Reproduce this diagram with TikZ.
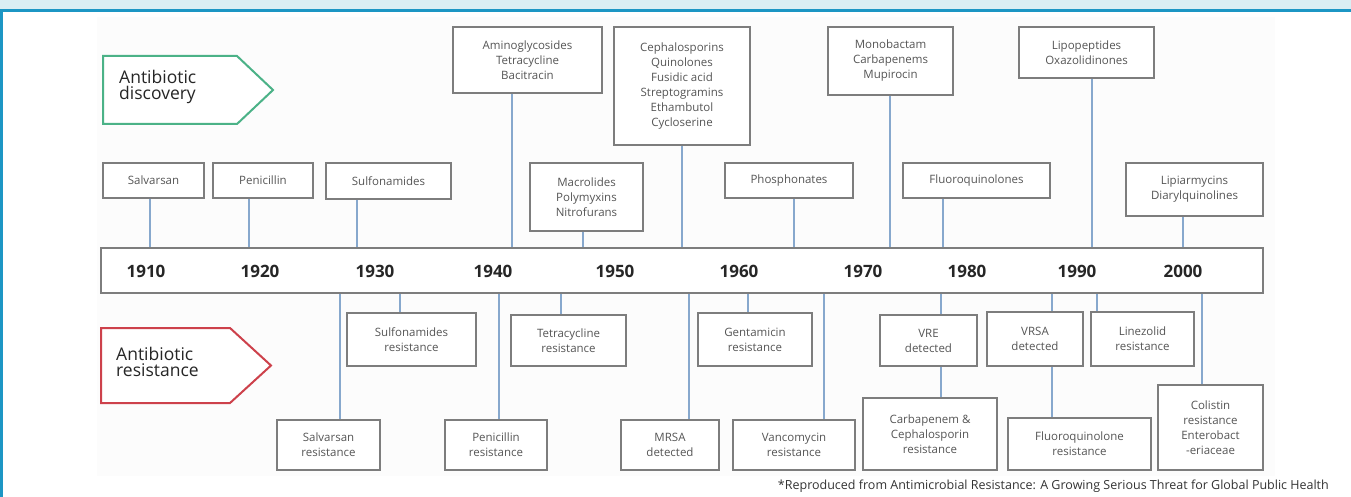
\documentclass[tikz,border=0pt]{standalone}
\usepackage{fontspec}
\setmainfont{Open Sans}
\usepackage{tikz}
\definecolor{framebl}{RGB}{28,150,196}
\definecolor{bandbl}{RGB}{218,238,243}
\definecolor{panelgray}{RGB}{252,252,252}
\definecolor{boxgray}{RGB}{125,125,125}
\definecolor{txtgray}{RGB}{85,85,85}
\definecolor{linkblue}{RGB}{135,168,205}
\definecolor{discgreen}{RGB}{75,178,135}
\definecolor{resred}{RGB}{205,65,75}

\begin{document}
\begin{tikzpicture}[x=1pt,y=-1pt]
    \tikzstyle{box} = [draw=boxgray,line width=1.6pt,fill=white,text=txtgray,align=center,inner sep=0pt,font=\fontsize{11.5}{15}\selectfont]
    \tikzstyle{link} = [linkblue,line width=1.4pt]
    \tikzstyle{year} = [font=\fontsize{17}{17}\selectfont\bfseries,text=black!85]
    \tikzstyle{flagtext} = [anchor=west,align=left,inner sep=0pt,text=black!85,font=\fontsize{17.5}{16}\selectfont]

    \useasboundingbox (0,0) rectangle (1351,497);

    % frame
    \fill[bandbl] (0,0) rectangle (1351,9);
    \fill[panelgray] (97,17) rectangle (1275,476);
    \draw[framebl,line width=3pt] (0,10.5) -- (1351,10.5);
    \draw[framebl,line width=3pt] (1.5,10.5) -- (1.5,497);

    % flags
    \draw[discgreen,line width=2pt,fill=white] (103,56) -- (237,56) -- (273,90) -- (237,124) -- (103,124) -- cycle;
    \node[flagtext] (disc) at (119,87) {Antibiotic\\discovery};
    \draw[resred,line width=2pt,fill=white] (101,328) -- (230,328) -- (271,365.5) -- (230,403) -- (101,403) -- cycle;
    \node[flagtext] (resist) at (116,362) {Antibiotic\\resistance};

    % timeline
    \node[box,minimum width=1162,minimum height=45] (bar) at (682,270.5) {};
    \node[year] (y1910) at (146,271) {1910};
    \node[year] (y1920) at (260,271) {1920};
    \node[year] (y1930) at (375,271) {1930};
    \node[year] (y1940) at (493,271) {1940};
    \node[year] (y1950) at (615,271) {1950};
    \node[year] (y1960) at (739,271) {1960};
    \node[year] (y1970) at (863,271) {1970};
    \node[year] (y1980) at (967,271) {1980};
    \node[year] (y1990) at (1077,271) {1990};
    \node[year] (y2000) at (1183,271) {2000};

    % discovery
    \node[box,minimum width=101,minimum height=35] (salvarsan) at (153.5,180.5) {Salvarsan};
    \node[box,minimum width=100,minimum height=35] (penicillin) at (263,180.5) {Penicillin};
    \node[box,minimum width=125,minimum height=36] (sulfa) at (388.5,181) {Sulfonamides};
    \node[box,minimum width=149,minimum height=66] (amino) at (527.5,60) {Aminoglycosides\\Tetracycline\\Bacitracin};
    \node[box,minimum width=113,minimum height=68] (macro) at (586.5,197) {Macrolides\\Polymyxins\\Nitrofurans};
    \node[box,minimum width=136,minimum height=118] (cepha) at (682,86) {Cephalosporins\\Quinolones\\Fusidic acid\\Streptogramins\\Ethambutol\\Cycloserine};
    \node[box,minimum width=128,minimum height=35] (phospho) at (789,180.5) {Phosphonates};
    \node[box,minimum width=125,minimum height=68] (monob) at (890.5,61) {Monobactam\\Carbapenems\\Mupirocin};
    \node[box,minimum width=135,minimum height=51] (lipopep) at (1086.5,52.5) {Lipopeptides\\Oxazolidinones};
    \node[box,minimum width=147,minimum height=35] (fluoro) at (976.5,180.5) {Fluoroquinolones};
    \node[box,minimum width=137,minimum height=53] (lipiar) at (1194.5,189.5) {Lipiarmycins\\Diarylquinolines};

    \draw[link] (150,0 |- salvarsan.south) -- (150,0 |- bar.north);
    \draw[link] (249,0 |- penicillin.south) -- (249,0 |- bar.north);
    \draw[link] (357,0 |- sulfa.south) -- (357,0 |- bar.north);
    \draw[link] (512,0 |- amino.south) -- (512,0 |- bar.north);
    \draw[link] (583,0 |- macro.south) -- (583,0 |- bar.north);
    \draw[link] (682,0 |- cepha.south) -- (682,0 |- bar.north);
    \draw[link] (794,0 |- phospho.south) -- (794,0 |- bar.north);
    \draw[link] (890,0 |- monob.south) -- (890,0 |- bar.north);
    \draw[link] (943,0 |- fluoro.south) -- (943,0 |- bar.north);
    \draw[link] (1092,0 |- lipopep.south) -- (1092,0 |- bar.north);
    \draw[link] (1183,0 |- lipiar.south) -- (1183,0 |- bar.north);

    % resistance
    \node[box,minimum width=103,minimum height=50] (salvres) at (328.5,445) {Salvarsan\\resistance};
    \node[box,minimum width=129,minimum height=53] (sulfares) at (411.5,339.5) {Sulfonamides\\resistance};
    \node[box,minimum width=102,minimum height=50] (penres) at (496,445) {Penicillin\\resistance};
    \node[box,minimum width=115,minimum height=51] (tetrares) at (568.5,340.5) {Tetracycline\\resistance};
    \node[box,minimum width=98,minimum height=50] (mrsa) at (670,445) {MRSA\\detected};
    \node[box,minimum width=114,minimum height=53] (gentares) at (755,339.5) {Gentamicin\\resistance};
    \node[box,minimum width=122,minimum height=50] (vancores) at (794,445) {Vancomycin\\resistance};
    \node[box,minimum width=97,minimum height=51] (vre) at (928.5,340.5) {VRE\\detected};
    \node[box,minimum width=134,minimum height=72] (carbares) at (930,434) {Carbapenem \&\\Cephalosporin\\resistance};
    \node[box,minimum width=96,minimum height=54] (vrsa) at (1035,339) {VRSA\\detected};
    \node[box,minimum width=103,minimum height=54] (linezres) at (1142.5,339) {Linezolid\\resistance};
    \node[box,minimum width=143,minimum height=52] (fluorores) at (1079.5,444) {Fluoroquinolone\\resistance};
    \node[box,minimum width=105,minimum height=85] (colires) at (1210.5,427.5) {Colistin\\resistance\\Enterobact\\-eriaceae};

    \draw[link] (340,0 |- bar.south) -- (340,0 |- salvres.north);
    \draw[link] (400,0 |- bar.south) -- (400,0 |- sulfares.north);
    \draw[link] (499,0 |- bar.south) -- (499,0 |- penres.north);
    \draw[link] (561,0 |- bar.south) -- (561,0 |- tetrares.north);
    \draw[link] (689,0 |- bar.south) -- (689,0 |- mrsa.north);
    \draw[link] (748,0 |- bar.south) -- (748,0 |- gentares.north);
    \draw[link] (824,0 |- bar.south) -- (824,0 |- vancores.north);
    \draw[link] (941,0 |- bar.south) -- (941,0 |- vre.north);
    \draw[link] (941,0 |- vre.south) -- (941,0 |- carbares.north);
    \draw[link] (1052,0 |- bar.south) -- (1052,0 |- vrsa.north);
    \draw[link] (1052,0 |- vrsa.south) -- (1052,0 |- fluorores.north);
    \draw[link] (1097,0 |- bar.south) -- (1097,0 |- linezres.north);
    \draw[link] (1202,0 |- bar.south) -- (1202,0 |- colires.north);

    % source
    \node[anchor=east,inner sep=0pt,text=black!80,font=\fontsize{12.5}{14}\selectfont] (source) at (1329,486) {*Reproduced from Antimicrobial Resistance: A Growing Serious Threat for Global Public Health};
\end{tikzpicture}
\end{document}
